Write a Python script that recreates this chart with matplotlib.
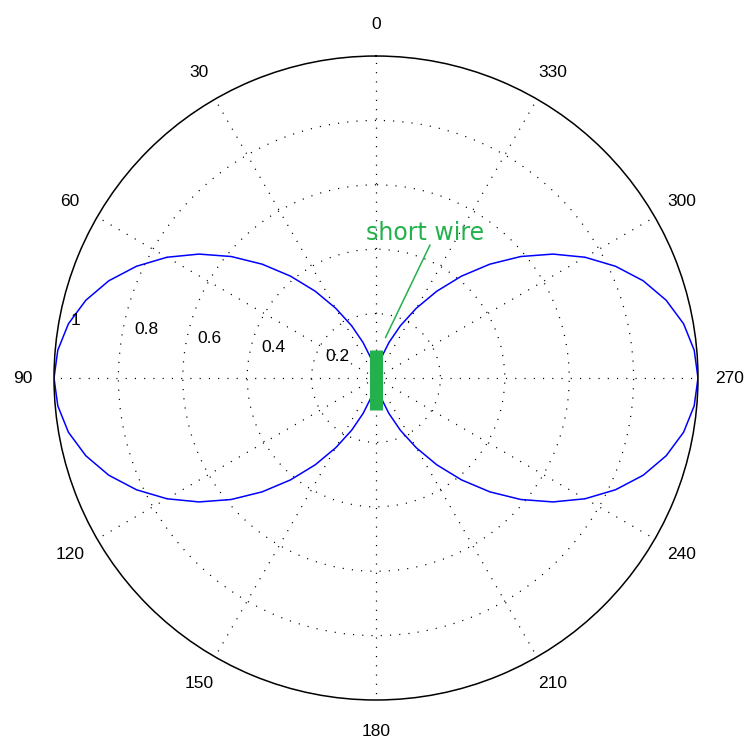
import numpy as np
import matplotlib.pyplot as plt

# power pattern of a short wire, read every 5 degrees
theta_deg = list(range(0, 365, 5))
pattern = [0.0, 0.008, 0.03, 0.067, 0.117, 0.179, 0.25, 0.329, 0.413, 0.5,
           0.587, 0.671, 0.75, 0.821, 0.883, 0.933, 0.97, 0.992, 1.0,
           0.992, 0.97, 0.933, 0.883, 0.821, 0.75, 0.671, 0.587, 0.5,
           0.413, 0.329, 0.25, 0.179, 0.117, 0.067, 0.03, 0.008, 0.0,
           0.008, 0.03, 0.067, 0.117, 0.179, 0.25, 0.329, 0.413, 0.5,
           0.587, 0.671, 0.75, 0.821, 0.883, 0.933, 0.97, 0.992, 1.0,
           0.992, 0.97, 0.933, 0.883, 0.821, 0.75, 0.671, 0.587, 0.5,
           0.413, 0.329, 0.25, 0.179, 0.117, 0.067, 0.03, 0.008, 0.0]

angle_ticks = [0, 30, 60, 90, 120, 150, 180, 210, 240, 270, 300, 330]
radial_ticks = [0.2, 0.4, 0.6, 0.8, 1]
radial_labels = ['0.2', '0.4', '0.6', '0.8', '1']

green = '#22b14c'

fig = plt.figure(figsize=(7.49, 7.42), dpi=100)
ax = fig.add_axes([0.0721, 0.0566, 0.8598, 0.8679], projection='polar')
ax.set_theta_zero_location('N')
ax.set_theta_direction(1)

ax.plot(np.deg2rad(theta_deg), pattern, color='#0000ff', lw=1.1)

# the wire itself
ax.plot([0, np.pi], [0.088, 0.1], color=green, lw=9.4, solid_capstyle='butt')

ax.set_ylim(0, 1)
ax.set_rticks([0.2, 0.4, 0.6, 0.8])
ax.set_yticklabels([])
ax.set_thetagrids(angle_ticks, [str(a) for a in angle_ticks],
                  fontsize=12.5, family='Liberation Sans')
ax.tick_params(axis='x', pad=12)
ax.grid(True, color='black', lw=0.9, linestyle=(0, (0.9, 6.5)))
ax.spines['polar'].set_linewidth(1.1)

for r, lab in zip(radial_ticks, radial_labels):
    ax.annotate(lab, xy=(np.deg2rad(82), r), xytext=(9.4, 9), textcoords='offset points',
                ha='left', va='center', fontsize=12.5, family='Liberation Sans')

ax.annotate('', xy=(np.deg2rad(-13.2), 0.129), xytext=(np.deg2rad(-22.1), 0.446),
            arrowprops=dict(arrowstyle='-', color=green, lw=1.1, shrinkA=0, shrinkB=0))
ax.text(np.deg2rad(-18.7), 0.475, 'short wire', color=green, fontsize=17,
        ha='center', va='center')

fig.savefig('out.png', dpi=100)
